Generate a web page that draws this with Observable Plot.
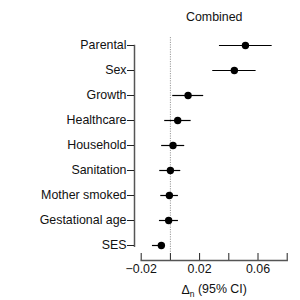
<!DOCTYPE html>
<html>
<head>
<meta charset="utf-8">
<script src="https://cdn.jsdelivr.net/npm/d3@7"></script>
<script src="https://cdn.jsdelivr.net/npm/@observablehq/plot@0.6"></script>
<style>
  html, body { margin: 0; padding: 0; background: #fff; }
</style>
</head>
<body>
<div id="chart"></div>
<script>
const categories = ["Parental","Sex","Growth","Healthcare","Household","Sanitation","Mother smoked","Gestational age","SES"];
const estimates = [0.0514, 0.0438, 0.0121, 0.0050, 0.0018, 0.0000, -0.0007, -0.0012, -0.0062];
const lower     = [0.0336, 0.0290, 0.0016, -0.0039, -0.0060, -0.0073, -0.0066, -0.0075, -0.0123];
const upper     = [0.0697, 0.0587, 0.0228, 0.0142, 0.0098, 0.0071, 0.0055, 0.0055, -0.0036];
const xTicks = [-0.02, 0, 0.02, 0.04, 0.06, 0.08];
const xTickLabels = [-0.02, 0.02, 0.06];
const chartTitle = "Combined";
const xLabel = "Δn (95% CI)";

const data = categories.map((c, i) => ({cat: c, est: estimates[i], lo: lower[i], hi: upper[i]}));
const fmt = d => (d < 0 ? "\u2212" : "") + Math.abs(d).toFixed(2);
const font = "'Liberation Sans', Arial, Helvetica, sans-serif";

const yTop = 45, yBottom = 245.7;
const frameH = yBottom - yTop;

const chart = Plot.plot({
  width: 300,
  height: 300,
  marginLeft: 134,
  marginRight: 13.3,
  marginTop: yTop,
  marginBottom: 300 - yBottom,
  style: {fontFamily: font, fontSize: "12.4px", color: "#111", background: "#fff"},
  x: {domain: [-0.02, 0.08], range: [140.7, 286.7]},
  y: {type: "point", domain: categories, range: [yTop, yBottom], padding: 0},
  marks: [
    Plot.ruleX([0], {x: d => d, stroke: "#9a9a9a", strokeWidth: 1, strokeDasharray: "1.2,1.2", insetTop: -8, insetBottom: -7.3}),
    Plot.frame({anchor: "left", stroke: "#555", strokeWidth: 1.5}),
    Plot.ruleX(xTicks, {x: d => d, stroke: "#222", strokeWidth: 1, insetTop: frameH + 7.3, insetBottom: -14.3}),
    Plot.frame({anchor: "bottom", stroke: "#555", strokeWidth: 1.5, insetBottom: -14.3, insetLeft: 6.7}),
    Plot.axisY({tickSize: 7, tickPadding: 1, label: null, fontSize: 12.4, stroke: "#222"}),
    Plot.axisX({ticks: xTickLabels, tickSize: 0, tickPadding: 18, tickFormat: fmt, label: null, fontSize: 12.4}),
    Plot.ruleY(data, {y: "cat", x1: "lo", x2: "hi", stroke: "#000", strokeWidth: 1.2}),
    Plot.dot(data, {x: "est", y: "cat", r: 3.7, fill: "#000", stroke: "none"}),
    Plot.text([chartTitle], {x: () => 0.03, frameAnchor: "top", dy: -33, fontSize: 12.4, fill: "#111", text: d => d}),
    Plot.text([xLabel], {x: () => 0.03, frameAnchor: "bottom", dy: 48, fontSize: 12.4, fill: "#111", text: d => d})
  ]
});

document.getElementById("chart").appendChild(chart);

// render subscript n in the axis label
d3.select(chart).selectAll("text").each(function() {
  const t = d3.select(this);
  if (t.text() === xLabel) {
    t.text(null);
    t.append("tspan").text("Δ");
    t.append("tspan").attr("font-size", "8.5px").attr("dy", "0.3em").text("n");
    t.append("tspan").attr("dy", "-0.3em").text(" (95% CI)");
  }
});
</script>
</body>
</html>
